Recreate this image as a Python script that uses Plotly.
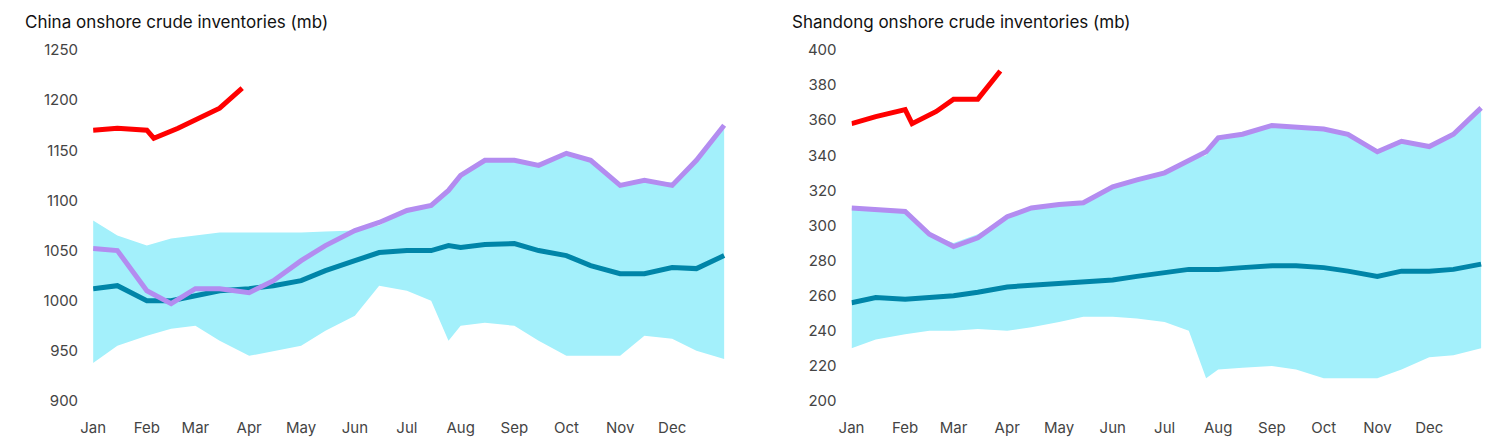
import plotly.graph_objects as go

# day-of-year positions (roughly semi-monthly)
days = [1, 15, 32, 46, 60, 74, 91, 105, 121, 135, 152, 166, 182, 196, 206, 213, 227, 244, 258, 274, 288, 305, 319, 335, 349, 365]
red_days = [1, 15, 32, 36, 50, 60, 74, 87]

month_ticks = [1, 32, 60, 91, 121, 152, 182, 213, 244, 274, 305, 335]
month_labels = ["Jan", "Feb", "Mar", "Apr", "May", "Jun", "Jul", "Aug", "Sep", "Oct", "Nov", "Dec"]

# China (mb)
cn_hi = [1080, 1065, 1055, 1062, 1065, 1068, 1068, 1068, 1068, 1069, 1070, 1075, 1090, 1095, 1110, 1125, 1140, 1140, 1135, 1147, 1140, 1115, 1120, 1118, 1140, 1172]
cn_lo = [938, 955, 965, 972, 975, 960, 945, 950, 955, 970, 985, 1015, 1010, 1000, 960, 975, 978, 975, 960, 945, 945, 945, 965, 962, 950, 942]
cn_avg = [1012, 1015, 1000, 1000, 1005, 1010, 1012, 1015, 1020, 1030, 1040, 1048, 1050, 1050, 1055, 1053, 1056, 1057, 1050, 1045, 1035, 1027, 1027, 1033, 1032, 1045]
cn_prev = [1052, 1050, 1010, 997, 1012, 1012, 1008, 1020, 1040, 1055, 1070, 1078, 1090, 1095, 1110, 1125, 1140, 1140, 1135, 1147, 1140, 1115, 1120, 1115, 1140, 1175]
cn_cur = [1170, 1172, 1170, 1162, 1172, 1180, 1192, 1212]

# Shandong (mb)
sd_hi = [310, 309, 308, 295, 290, 295, 305, 310, 312, 312, 322, 325, 330, 337, 340, 350, 352, 357, 355, 355, 352, 342, 348, 345, 352, 367]
sd_lo = [230, 235, 238, 240, 240, 241, 240, 242, 245, 248, 248, 247, 245, 240, 213, 218, 219, 220, 218, 213, 213, 213, 218, 225, 226, 230]
sd_avg = [256, 259, 258, 259, 260, 262, 265, 266, 267, 268, 269, 271, 273, 275, 275, 275, 276, 277, 277, 276, 274, 271, 274, 274, 275, 278]
sd_prev = [310, 309, 308, 295, 288, 293, 305, 310, 312, 313, 322, 326, 330, 337, 342, 350, 352, 357, 356, 355, 352, 342, 348, 345, 352, 367]
sd_cur = [358, 362, 366, 358, 365, 372, 372, 388]

CYAN = "#a3f0fb"
TEAL = "#0085a8"
PURPLE = "#b38cf0"
RED = "#ff0000"

fig = go.Figure()


def add_panel(xa, ya, hi, lo, avg, prev, cur):
    fig.add_trace(go.Scatter(x=days, y=lo, mode="lines", line=dict(width=0, color=CYAN),
                             xaxis=xa, yaxis=ya, showlegend=False, hoverinfo="skip"))
    fig.add_trace(go.Scatter(x=days, y=hi, mode="lines", line=dict(width=0, color=CYAN),
                             fill="tonexty", fillcolor=CYAN, xaxis=xa, yaxis=ya, showlegend=False))
    fig.add_trace(go.Scatter(x=days, y=avg, mode="lines", line=dict(width=5, color=TEAL),
                             xaxis=xa, yaxis=ya, showlegend=False))
    fig.add_trace(go.Scatter(x=days, y=prev, mode="lines", line=dict(width=5, color=PURPLE),
                             xaxis=xa, yaxis=ya, showlegend=False))
    fig.add_trace(go.Scatter(x=red_days, y=cur, mode="lines", line=dict(width=5, color=RED),
                             xaxis=xa, yaxis=ya, showlegend=False))


add_panel("x", "y", cn_hi, cn_lo, cn_avg, cn_prev, cn_cur)
add_panel("x2", "y2", sd_hi, sd_lo, sd_avg, sd_prev, sd_cur)

xcommon = dict(range=[1, 367], tickvals=month_ticks, ticktext=month_labels, showgrid=False,
               zeroline=False, showline=False, ticks="", automargin=False, ticklabelstandoff=16,
               tickfont=dict(size=15, color="#444"))
ycommon = dict(showgrid=False, zeroline=False, showline=False, ticks="", automargin=False,
               ticklabelstandoff=14, tickfont=dict(size=15, color="#444"))

fig.update_layout(
    width=1493, height=439,
    margin=dict(l=0, r=0, t=42, b=46),
    paper_bgcolor="white", plot_bgcolor="white",
    font=dict(family="Inter, Roboto, sans-serif"),
    xaxis=dict(domain=[0.057, 0.482], anchor="y", **xcommon),
    yaxis=dict(domain=[0, 1], anchor="x", range=[900, 1250], dtick=50, **ycommon),
    xaxis2=dict(domain=[0.565, 0.989], anchor="y2", **xcommon),
    yaxis2=dict(domain=[0, 1], anchor="x2", range=[200, 400], dtick=20, **ycommon),
    annotations=[
        dict(text="China onshore crude inventories (mb)", x=0.01, y=1.045, xref="paper", yref="paper",
             xanchor="left", yanchor="bottom", showarrow=False, font=dict(size=17, color="#111")),
        dict(text="Shandong onshore crude inventories (mb)", x=0.524, y=1.045, xref="paper", yref="paper",
             xanchor="left", yanchor="bottom", showarrow=False, font=dict(size=17, color="#111")),
    ],
)

fig.write_html("out.html")
